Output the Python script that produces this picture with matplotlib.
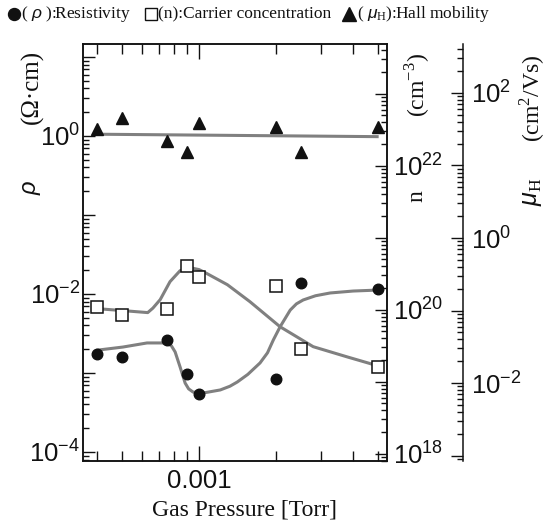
import math
import matplotlib
matplotlib.use('Agg')
import matplotlib.pyplot as plt
from matplotlib.lines import Line2D
from matplotlib.ticker import LogLocator, FuncFormatter, NullFormatter

plt.rcParams['mathtext.fontset'] = 'custom'
plt.rcParams['mathtext.rm'] = 'Liberation Sans'
plt.rcParams['mathtext.it'] = 'Liberation Sans:italic'

# measured points (gas pressure in Torr)
pressure = [0.0004, 0.0005, 0.00075, 0.0009, 0.001, 0.002, 0.0025, 0.005]
resistivity = [1.74e-3, 1.60e-3, 2.62e-3, 9.7e-4, 5.4e-4, 8.4e-4, 1.38e-2, 1.16e-2]   # ohm cm
carrier = [1.10e20, 8.5e19, 1.03e20, 4.08e20, 2.87e20, 2.15e20, 2.87e19, 1.62e19]     # cm^-3
mobility = [31.8, 45.2, 21.8, 15.3, 38.6, 34.0, 15.3, 34.0]                           # cm2/Vs

# guide curves (gray)
rho_curve_p = [4.03e-4, 5.04e-4, 6.26e-4, 7.5e-4, 7.8e-4, 8.06e-4, 8.43e-4, 8.82e-4, 9.1e-4,
               9.47e-4, 1.037e-3, 1.21e-3, 1.32e-3, 1.41e-3, 1.55e-3, 1.73e-3, 1.85e-3, 1.95e-3,
               2.07e-3, 2.27e-3, 2.4e-3, 2.55e-3, 2.85e-3, 3.25e-3, 4.0e-3, 4.96e-3]
rho_curve = [1.95e-3, 2.13e-3, 2.40e-3, 2.40e-3, 2.2e-3, 1.85e-3, 1.19e-3, 7.46e-4, 6.3e-4,
             5.74e-4, 5.58e-4, 6.10e-4, 6.8e-4, 7.69e-4, 9.6e-4, 1.34e-3, 1.8e-3, 2.62e-3,
             3.82e-3, 6.26e-3, 7.5e-3, 8.4e-3, 9.5e-3, 1.03e-2, 1.09e-2, 1.12e-2]
n_curve_p = [4.03e-4, 5.04e-4, 6.3e-4, 6.6e-4, 7.05e-4, 7.7e-4, 8.43e-4, 9.22e-4, 1.0e-3,
             1.075e-3, 1.29e-3, 1.58e-3, 2.07e-3, 2.79e-3, 3.8e-3, 4.96e-3]
n_curve = [1.03e20, 9.7e19, 9.1e19, 1.05e20, 1.38e20, 2.45e20, 3.48e20, 3.83e20, 3.6e20,
           3.16e20, 2.22e20, 1.29e20, 5.8e19, 3.06e19, 2.2e19, 1.67e19]
mu_curve_p = [4.03e-4, 4.96e-3]
mu_curve = [27.0, 25.0]

gray = '#808080'
black = '#111111'
serif = ['Liberation Serif', 'DejaVu Sans']


def even_exp(v, pos):
    e = int(round(math.log10(v)))
    if e % 2 == 0:
        return r'$\mathregular{10^{%d}}$' % e
    return ''


fig = plt.figure(figsize=(5.5, 5.27), dpi=100)
ax = fig.add_axes([83 / 550, 66 / 527, 304 / 550, 417 / 527])
ax2 = ax.twinx()
ax3 = ax.twinx()
ax3.spines['right'].set_position(('axes', 1.25))
for s in ['left', 'top', 'bottom']:
    ax3.spines[s].set_visible(False)

for a in [ax, ax2, ax3]:
    for s in a.spines.values():
        s.set_linewidth(1.1)
        s.set_color(black)

ax.set_xscale('log')
for a in [ax, ax2, ax3]:
    a.set_yscale('log')

ax.set_xlim(3.52e-4, 5.42e-3)
ax.set_ylim(7.69e-5, 14.6)
ax2.set_ylim(7.9e17, 4.9e23)
ax3.set_ylim(8.4e-4, 474)

# data
ax.plot(rho_curve_p, rho_curve, color=gray, lw=2.2, zorder=2)
ax.plot(pressure, resistivity, 'o', color=black, ms=7.6, zorder=3)
ax2.plot(n_curve_p, n_curve, color=gray, lw=2.2, zorder=2)
ax2.plot(pressure, carrier, 's', mfc='white', mec=black, mew=1.1, ms=8.2, zorder=3)
ax3.plot(mu_curve_p, mu_curve, color=gray, lw=2.2, zorder=2)
ax3.plot(pressure, mobility, '^', color=black, ms=8, zorder=3)

# ticks
ax.xaxis.set_major_locator(LogLocator(base=10))
ax.xaxis.set_minor_locator(LogLocator(base=10, subs=range(2, 10)))
ax.xaxis.set_major_formatter(FuncFormatter(lambda v, p: '%g' % v))
ax.xaxis.set_minor_formatter(NullFormatter())
ax.tick_params(axis='x', which='major', direction='in', length=10.5, width=1, top=True,
               labelsize=18.5, pad=6, colors=black)
ax.tick_params(axis='x', which='minor', direction='in', length=7, width=1, top=True, colors=black)

for a, pad in [(ax, 2), (ax2, 4), (ax3, 6)]:
    a.yaxis.set_major_locator(LogLocator(base=10, numticks=20))
    a.yaxis.set_minor_locator(LogLocator(base=10, subs=range(2, 10), numticks=20))
    a.yaxis.set_major_formatter(FuncFormatter(even_exp))
    a.yaxis.set_minor_formatter(NullFormatter())
    a.tick_params(axis='y', which='major', direction='in', length=8.5, width=1,
                  labelsize=18.5, pad=pad, colors=black)
    a.tick_params(axis='y', which='minor', direction='in', length=4.5, width=1, colors=black)
    for lab in a.get_yticklabels():
        lab.set_fontfamily('Liberation Sans')
for lab in ax.get_xticklabels():
    lab.set_fontfamily('Liberation Sans')

# axis titles
fig.text(245 / 550, 1 - 510 / 527, 'Gas Pressure [Torr]', family=serif, fontsize=17,
         ha='center', va='center', color=black)
fig.text(31 / 550, 1 - 187 / 527, r'$\rho$', fontsize=17, rotation=90, ha='center', va='center',
         color=black)
fig.text(32 / 550, 1 - 87 / 527, '(\u03a9\u00b7cm)', family=serif, fontsize=18, rotation=90,
         ha='center', va='center', color=black)
fig.text(417 / 550, 1 - 196 / 527, 'n', family=serif, fontsize=17, rotation=90,
         ha='center', va='center', color=black)
fig.text(417 / 550, 1 - 85 / 527, r'(cm$^{\mathregular{-3}}$)', family=serif, fontsize=17,
         rotation=90, ha='center', va='center', color=black)
fig.text(532 / 550, 1 - 192 / 527, r'$\mu_{\mathregular{H}}$', family=serif, fontsize=18,
         rotation=90, ha='center', va='center', color=black)
fig.text(532 / 550, 1 - 98 / 527, r'(cm$^{\mathregular{2}}$/Vs)', family=serif, fontsize=17,
         rotation=90, ha='center', va='center', color=black)

# legend line at the top: key symbols drawn as markers, then the texts
leg_y = 1 - 14 / 527
for kx, mk, mfc, ms in [(14, 'o', black, 8.6), (151, 's', 'white', 8.4), (349, '^', black, 9.5)]:
    fig.add_artist(Line2D([kx / 550], [leg_y], marker=mk, ms=ms, mfc=mfc, mec=black, mew=1,
                          linestyle='none', transform=fig.transFigure))
fig.text(21 / 550, leg_y, '( $\\rho$ ):Resistivity', family=serif, fontsize=12.5,
         ha='left', va='center', color=black)
fig.text(158 / 550, leg_y, '(n):Carrier concentration', family=serif, fontsize=12.5,
         ha='left', va='center', color=black)
fig.text(357 / 550, leg_y, '( $\\mu_{\\mathregular{H}}$):Hall mobility', family=serif,
         fontsize=12.5, ha='left', va='center', color=black)

fig.savefig('out.png', dpi=100)
